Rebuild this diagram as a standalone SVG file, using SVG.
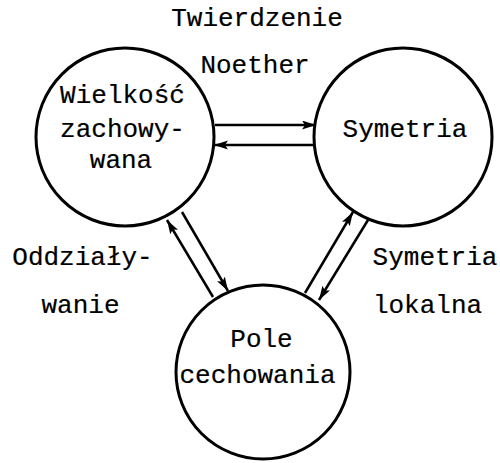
<svg xmlns="http://www.w3.org/2000/svg" width="500" height="463" viewBox="0 0 500 463">
<style>
.n{fill:#fff;stroke:#000;stroke-width:3}
.t{font-family:"Liberation Mono","DejaVu Sans Mono",monospace;font-size:26px;fill:#000;stroke:#000;stroke-width:0.2;text-anchor:middle}
.c{stroke:#000;stroke-width:2.5;fill:none;marker-end:url(#ah)}
</style>
<defs>
<marker id="ah" markerUnits="userSpaceOnUse" markerWidth="16" markerHeight="10" refX="14" refY="4.5" orient="auto">
<path d="M0,0 L14,4.5 L0,9 L3,4.5 Z" fill="#000"/>
</marker>
</defs>
<rect width="500" height="463" fill="#fff"/>
<g id="connectors">
<line class="c" x1="215" y1="125" x2="316" y2="125"/>
<line class="c" x1="315" y1="145" x2="214" y2="145"/>
<line class="c" x1="213" y1="297" x2="167" y2="220"/>
<line class="c" x1="182" y1="212" x2="228" y2="291"/>
<line class="c" x1="305" y1="293" x2="353" y2="212"/>
<line class="c" x1="368" y1="220" x2="319" y2="300"/>
</g>
<g id="node-wielkosc">
<circle class="n" cx="125" cy="137" r="89"/>
<text class="t" x="122.5" y="103">Wielkość</text>
<text class="t" x="122.5" y="137">zachowy-</text>
<text class="t" x="121" y="168">wana</text>
</g>
<g id="node-symetria">
<circle class="n" cx="403" cy="137" r="89"/>
<text class="t" x="405" y="137">Symetria</text>
</g>
<g id="node-pole">
<circle class="n" cx="263" cy="372" r="87"/>
<text class="t" x="261.5" y="347">Pole</text>
<text class="t" x="257.5" y="383">cechowania</text>
</g>
<g id="labels">
<text class="t" x="257" y="26">Twierdzenie</text>
<text class="t" x="255" y="73">Noether</text>
<text class="t" x="82.5" y="265">Oddziały-</text>
<text class="t" x="80.5" y="313">wanie</text>
<text class="t" x="435" y="265">Symetria</text>
<text class="t" x="427.5" y="313">lokalna</text>
</g>
</svg>
